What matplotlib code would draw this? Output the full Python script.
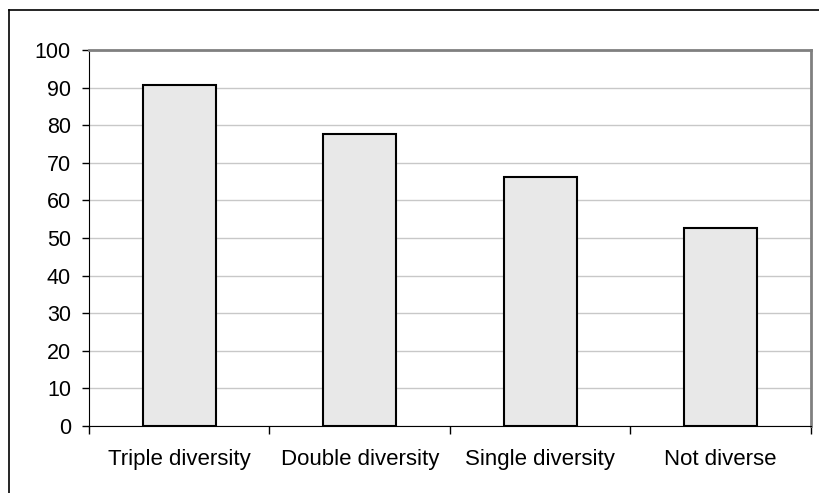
import matplotlib
matplotlib.use("Agg")
import matplotlib.pyplot as plt
from matplotlib.lines import Line2D

categories = ["Triple diversity", "Double diversity", "Single diversity", "Not diverse"]
values = [90.8, 77.6, 66.1, 52.7]

plt.rcParams['font.family'] = ['Liberation Sans', 'DejaVu Sans']

fig = plt.figure(figsize=(8.2, 4.93), dpi=100)
ax = fig.add_axes([89 / 820, 1 - 426 / 493, 722 / 820, 376 / 493])

x = range(len(categories))
ax.bar(x, values, width=0.405, color="#e8e8e8", edgecolor="black", linewidth=1.5, zorder=3)

ax.set_xlim(-0.5, len(categories) - 0.5)
ax.set_ylim(0, 100)
ax.set_yticks(range(0, 101, 10))
ax.yaxis.grid(True, color="#c8c8c8", linewidth=1.0, zorder=0)

ax.set_xticks(x)
ax.set_xticklabels(categories)
ax.set_xticks([i - 0.5 for i in range(len(categories) + 1)], minor=True)
ax.tick_params(axis="x", which="major", length=0, pad=16.5, labelsize=16)
ax.tick_params(axis="x", which="minor", length=5.5, width=1, direction="out")
ax.tick_params(axis="y", length=5, width=1, direction="out", pad=8, labelsize=15.5)

ax.spines["left"].set_color("black")
ax.spines["bottom"].set_color("black")
for s in ("top", "right"):
    ax.spines[s].set_color("#808080")
    ax.spines[s].set_linewidth(2)

# outer chart frame (only top and left visible in the image)
fig.add_artist(Line2D([9.5 / 820, 1], [1 - 9.5 / 493, 1 - 9.5 / 493], color="black", linewidth=1.2))
fig.add_artist(Line2D([9.5 / 820, 9.5 / 820], [0, 1 - 9.5 / 493], color="black", linewidth=1.2))

fig.savefig("out.png", dpi=100)
